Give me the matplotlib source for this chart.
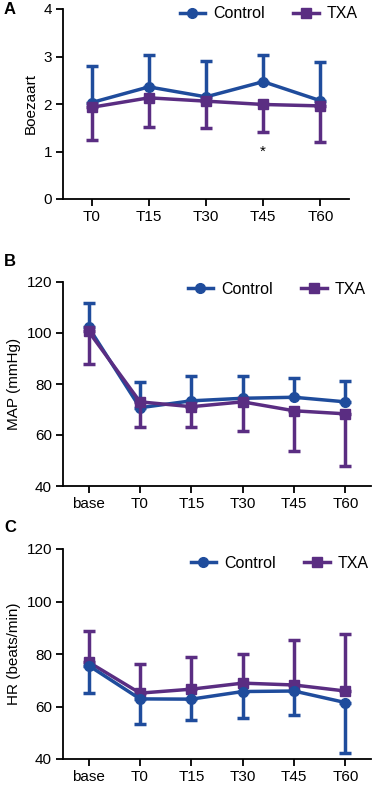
import matplotlib
matplotlib.use("Agg")
import matplotlib.pyplot as plt
import numpy as np

plt.rcParams["font.family"] = ["Liberation Sans", "DejaVu Sans"]

BLUE = "#1f4c9c"
PURPLE = "#5a2d82"

# Panel A — Boezaart
a_labels = ["T0", "T15", "T30", "T45", "T60"]
a_ctrl = [2.03, 2.36, 2.15, 2.47, 2.07]
a_ctrl_up = [2.79, 3.03, 2.91, 3.03, 2.89]
a_txa = [1.93, 2.13, 2.06, 1.99, 1.96]
a_txa_lo = [1.24, 1.51, 1.49, 1.41, 1.19]

# Panel B — MAP
b_labels = ["base", "T0", "T15", "T30", "T45", "T60"]
b_ctrl = [102.2, 70.7, 73.4, 74.4, 74.8, 73.0]
b_ctrl_up = [111.6, 80.8, 83.3, 83.0, 82.5, 81.2]
b_txa = [100.6, 73.0, 71.1, 73.0, 69.5, 68.3]
b_txa_lo = [87.7, 63.2, 63.2, 61.5, 53.8, 47.7]

# Panel C — HR
c_labels = ["base", "T0", "T15", "T30", "T45", "T60"]
c_ctrl = [75.6, 62.9, 62.8, 65.7, 65.9, 61.5]
c_ctrl_lo = [65.3, 53.4, 54.9, 55.5, 56.8, 42.2]
c_txa = [76.9, 65.1, 66.6, 68.9, 68.2, 65.9]
c_txa_up = [88.8, 76.1, 78.7, 80.1, 85.5, 87.6]

W, H = 383, 788
fig = plt.figure(figsize=(W / 100, H / 100), dpi=100)


def make_ax(left, top, right, bottom):
    return fig.add_axes([left / W, 1 - bottom / H, (right - left) / W, (bottom - top) / H])


def draw_series(ax, x, y, err_end, color, marker, upper, z):
    y = np.asarray(y)
    e = np.asarray(err_end)
    if upper:
        yerr = [np.zeros_like(y), e - y]
    else:
        yerr = [y - e, np.zeros_like(y)]
    ax.errorbar(x, y, yerr=yerr, color=color, lw=2.5, elinewidth=2.5,
                capsize=4, capthick=2.5, marker=marker, ms=7, zorder=z,
                clip_on=False)


def style(ax, labels, ylim, yticks, ylabel):
    x = np.arange(len(labels))
    ax.set_xlim(-0.5, len(labels) - 0.5)
    ax.set_ylim(*ylim)
    ax.set_yticks(yticks)
    ax.set_xticks(x)
    ax.set_xticklabels(labels)
    for s in ["top", "right"]:
        ax.spines[s].set_visible(False)
    for s in ["left", "bottom"]:
        ax.spines[s].set_linewidth(1.3)
    ax.tick_params(width=1.3, length=5, labelsize=11, pad=3)
    ax.set_ylabel(ylabel, fontsize=11, labelpad=4)


def legend(ax, handles, x, y):
    ax.legend(handles=handles, labels=["Control", "TXA"], loc="center right",
              bbox_to_anchor=(x / W, 1 - y / H), bbox_transform=fig.transFigure,
              ncol=2, frameon=False, fontsize=11.5, borderpad=0, borderaxespad=0,
              handlelength=1.6, columnspacing=1.8, handletextpad=0.5)


handles = [plt.Line2D([], [], color=BLUE, lw=2.5, marker="o", ms=7),
           plt.Line2D([], [], color=PURPLE, lw=2.5, marker="s", ms=7)]

# A
axA = make_ax(63, 9, 349, 199)
xa = np.arange(len(a_labels))
draw_series(axA, xa, a_ctrl, a_ctrl_up, BLUE, "o", True, 3)
draw_series(axA, xa, a_txa, a_txa_lo, PURPLE, "s", False, 4)
style(axA, a_labels, (0, 4), [0, 1, 2, 3, 4], "Boezaart")
axA.text(3, 1.0, "*", ha="center", va="center", fontsize=11)
legend(axA, handles, 358, 14)

# B
axB = make_ax(63, 282, 371, 486)
xb = np.arange(len(b_labels))
draw_series(axB, xb, b_ctrl, b_ctrl_up, BLUE, "o", True, 3)
draw_series(axB, xb, b_txa, b_txa_lo, PURPLE, "s", False, 4)
style(axB, b_labels, (40, 120), [40, 60, 80, 100, 120], "MAP (mmHg)")
legend(axB, handles, 366, 289)

# C
axC = make_ax(63, 549, 371, 759)
xc = np.arange(len(c_labels))
draw_series(axC, xc, c_ctrl, c_ctrl_lo, BLUE, "o", False, 4)
draw_series(axC, xc, c_txa, c_txa_up, PURPLE, "s", True, 3)
style(axC, c_labels, (40, 120), [40, 60, 80, 100, 120], "HR (beats/min)")
legend(axC, handles, 369, 563)

for lab, yy in [("A", 10), ("B", 262), ("C", 528)]:
    fig.text(4 / W, 1 - yy / H, lab, fontsize=12, fontweight="bold", va="center")

fig.savefig("out.png", dpi=100)
